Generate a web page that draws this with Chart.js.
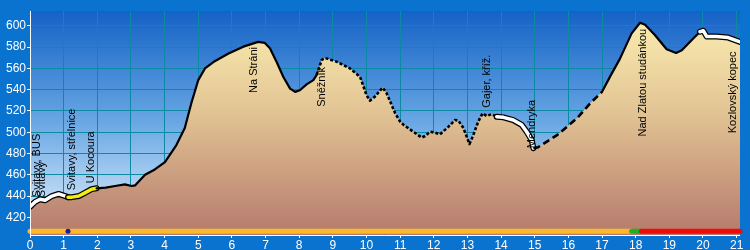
<!DOCTYPE html>
<html>
<head>
<meta charset="utf-8">
<script src="https://cdn.jsdelivr.net/npm/chart.js@4/dist/chart.umd.min.js"></script>
<style>
  body { margin: 0; background: #0a72cf; }
  #wrap { width: 750px; height: 250px; }
</style>
</head>
<body>
<div id="wrap"><canvas id="profileChart" width="750" height="250"></canvas></div>
<script>
// elevation profile (km, m)
const km = [0, 0.15, 0.3, 0.45, 0.65, 0.85, 1.05, 1.13, 1.25, 1.45, 1.63, 1.83, 1.98,
    2.25, 2.53, 2.82, 3.02, 3.12, 3.42, 3.71, 4.01, 4.35, 4.6, 4.8, 5.0, 5.2, 5.45,
    5.9, 6.34, 6.78, 6.98, 7.13, 7.33, 7.53, 7.73, 7.88, 8.02, 8.22, 8.42, 8.52, 8.67,
    8.77, 9.11, 9.51, 9.81, 10.0, 10.1, 10.25, 10.48, 10.6, 10.85, 11.0, 11.1, 11.39,
    11.64, 11.74, 11.89, 12.04, 12.18, 12.43, 12.63, 12.73, 12.88, 13.06, 13.17, 13.32,
    13.45, 13.57, 13.72, 13.87, 14.07, 14.36, 14.61, 14.76, 14.91, 14.96, 15.1, 15.65,
    16.25, 16.64, 17.0, 17.25, 17.53, 17.88, 18.13, 18.28, 18.57, 18.92, 19.2, 19.37,
    19.66, 19.91, 20.01, 20.11, 20.4, 20.75, 21.1];
const elev = [430, 434.5, 437, 436, 440, 442, 440, 439, 439, 440, 443, 446.5, 447.3,
    448, 449.5, 451, 449.5, 450, 460, 465, 472, 488, 504, 528, 549, 560, 566,
    574, 580.5, 585, 584, 579, 566, 552, 541, 538, 539.5, 545, 549, 554, 568,
    569.8, 566.4, 560, 552, 535, 529.7, 533.5, 542, 536.6, 518, 510, 507, 500.5,
    495, 496.5, 500.5, 499.6, 498, 505, 511.5, 511, 504, 489, 497, 510,
    517.8, 515.3, 517, 514.6, 514, 511.5, 507, 500.5, 492.7, 485, 486, 497,
    513, 527, 538, 553, 569, 593, 603, 601, 591.5, 578, 574.5, 577,
    586.5, 594.5, 595.5, 590, 590, 589, 585];

// line kind along the route
const segBreaks = [0, 1.13, 1.98, 8.52, 13.87, 14.96, 17.0, 19.91, 21.1];
const segKind = ['white', 'yellow', 'solid', 'dotted', 'white', 'dashed', 'solid', 'white'];

// coloured strip under the profile
const barBreaks = [0, 17.88, 18.17, 21.1];
const barKind = ['orange', 'green', 'red'];
const barElev = 407;
const markerKm = [1.13];

// waypoint names
const labelText = ['Svitavy, BUS', 'Svitavy', 'Svitavy, střelnice', 'U Kocoura', 'Na Stráni',
    'Sněžník', 'Gajer, kříž.', 'Mendryka', 'Nad Zlatou studánkou', 'Kozlovský kopec'];
const labelKm = [0.22, 0.36, 1.25, 1.81, 6.66, 8.69, 13.57, 14.92, 18.23, 20.89];
const labelElev = [439, 439, 445.5, 452, 537, 524, 523, 485, 496, 499];

const xTicks = [0, 1, 2, 3, 4, 5, 6, 7, 8, 9, 10, 11, 12, 13, 14, 15, 16, 17, 18, 19, 20, 21];
const yTicks = [420, 440, 460, 480, 500, 520, 540, 560, 580, 600];

document.addEventListener('DOMContentLoaded', function () {
    const FONT = "'Liberation Sans', Arial, sans-serif";
    const points = km.map((k, i) => ({ x: k, y: elev[i] }));

    function slice(a, b) {
        return points.filter(p => p.x >= a - 1e-9 && p.x <= b + 1e-9);
    }

    function lineSet(data, color, width, dash) {
        return {
            data: data,
            borderColor: color,
            borderWidth: width,
            borderDash: dash || [],
            borderCapStyle: dash ? 'butt' : 'round',
            borderJoinStyle: 'round',
            pointRadius: 0,
            fill: false,
            tension: 0
        };
    }

    const datasets = [];

    // terrain
    datasets.push({
        data: points,
        borderWidth: 0,
        pointRadius: 0,
        tension: 0,
        fill: 'start',
        backgroundColor: function (c) {
            const area = c.chart.chartArea;
            if (!area) return '#e0c090';
            const g = c.chart.ctx.createLinearGradient(0, area.top, 0, area.bottom);
            g.addColorStop(0, '#fcf0b2');
            g.addColorStop(0.45, '#e2c494');
            g.addColorStop(1, '#b57a6c');
            return g;
        }
    });

    // profile line, one dataset per stretch
    for (let i = 0; i < segKind.length; i++) {
        const d = slice(segBreaks[i], segBreaks[i + 1]);
        const kind = segKind[i];
        if (kind === 'white' || kind === 'yellow') {
            datasets.push(lineSet(d, '#000000', 6));
            datasets.push(lineSet(d, kind === 'white' ? '#ffffff' : '#f4ee10', 3.5));
        } else if (kind === 'solid') {
            datasets.push(lineSet(d, '#000000', 2.2));
        } else if (kind === 'dotted') {
            datasets.push(lineSet(d, '#000000', 2.6, [3, 2]));
        } else {
            datasets.push(lineSet(d, '#000000', 2.6, [7, 4]));
        }
    }

    // strip
    const barColors = { orange: '#fab92a', green: '#22b022', red: '#f00a0a' };
    for (let i = 0; i < barKind.length; i++) {
        const ds = lineSet([{ x: barBreaks[i], y: barElev }, { x: barBreaks[i + 1], y: barElev }],
            barColors[barKind[i]], 5);
        ds.clip = false;
        datasets.push(ds);
    }
    datasets.push({
        type: 'scatter',
        data: markerKm.map(k => ({ x: k, y: barElev })),
        pointRadius: 2.5,
        pointBackgroundColor: '#1c1ca0',
        pointBorderWidth: 0
    });

    // later datasets on top
    datasets.forEach((ds, i) => { ds.order = datasets.length - i; });

    const backdrop = {
        id: 'backdrop',
        beforeDraw(chart) {
            const ctx = chart.ctx;
            const a = chart.chartArea;
            ctx.save();
            ctx.fillStyle = '#0a72cf';
            ctx.fillRect(0, 0, chart.width, chart.height);
            const g = ctx.createLinearGradient(0, a.top, 0, a.bottom);
            g.addColorStop(0, '#1462c6');
            g.addColorStop(0.5, '#6aa8e4');
            g.addColorStop(1, '#e6f2fc');
            ctx.fillStyle = g;
            ctx.fillRect(a.left, a.top, a.right - a.left, a.bottom - a.top);
            ctx.restore();
        },
        afterDatasetsDraw(chart) {
            const ctx = chart.ctx;
            const a = chart.chartArea;
            const xs = chart.scales.x;
            const ys = chart.scales.y;
            ctx.save();
            ctx.strokeStyle = '#ffffff';
            ctx.lineWidth = 1;
            ctx.beginPath();
            ctx.moveTo(a.left + 0.5, a.top);
            ctx.lineTo(a.left + 0.5, a.bottom + 0.5);
            ctx.lineTo(a.right, a.bottom + 0.5);
            ctx.stroke();

            ctx.fillStyle = '#000000';
            ctx.font = '11px ' + FONT;
            ctx.textAlign = 'left';
            ctx.textBaseline = 'middle';
            labelText.forEach((t, i) => {
                ctx.save();
                ctx.translate(xs.getPixelForValue(labelKm[i]), ys.getPixelForValue(labelElev[i]));
                ctx.rotate(-Math.PI / 2);
                ctx.fillText(t, 0, 0);
                ctx.restore();
            });
            ctx.restore();
        }
    };

    new Chart(document.getElementById('profileChart'), {
        type: 'line',
        data: { datasets: datasets },
        options: {
            responsive: false,
            animation: false,
            events: [],
            layout: { padding: { top: 11, right: 10, left: 0, bottom: 0 } },
            plugins: { legend: { display: false }, tooltip: { enabled: false } },
            scales: {
                x: {
                    type: 'linear',
                    min: 0,
                    max: 21.1,
                    afterBuildTicks: s => { s.ticks = xTicks.map(v => ({ value: v })); },
                    afterFit: s => { s.height = 15; },
                    border: { display: false },
                    grid: { color: '#0c8aa4', lineWidth: 1, tickColor: '#ffffff', tickLength: 3 },
                    ticks: { color: '#ffffff', font: { family: FONT, size: 12 }, padding: 0, maxRotation: 0, autoSkip: false }
                },
                y: {
                    min: 403.4,
                    max: 614,
                    afterBuildTicks: s => { s.ticks = yTicks.map(v => ({ value: v })); },
                    afterFit: s => { s.width = 30; },
                    border: { display: false },
                    grid: { color: '#0c8aa4', lineWidth: 1, tickColor: '#ffffff', tickLength: 3 },
                    ticks: { color: '#ffffff', font: { family: FONT, size: 12 }, padding: 1 }
                }
            }
        },
        plugins: [backdrop]
    });
});
</script>
</body>
</html>
